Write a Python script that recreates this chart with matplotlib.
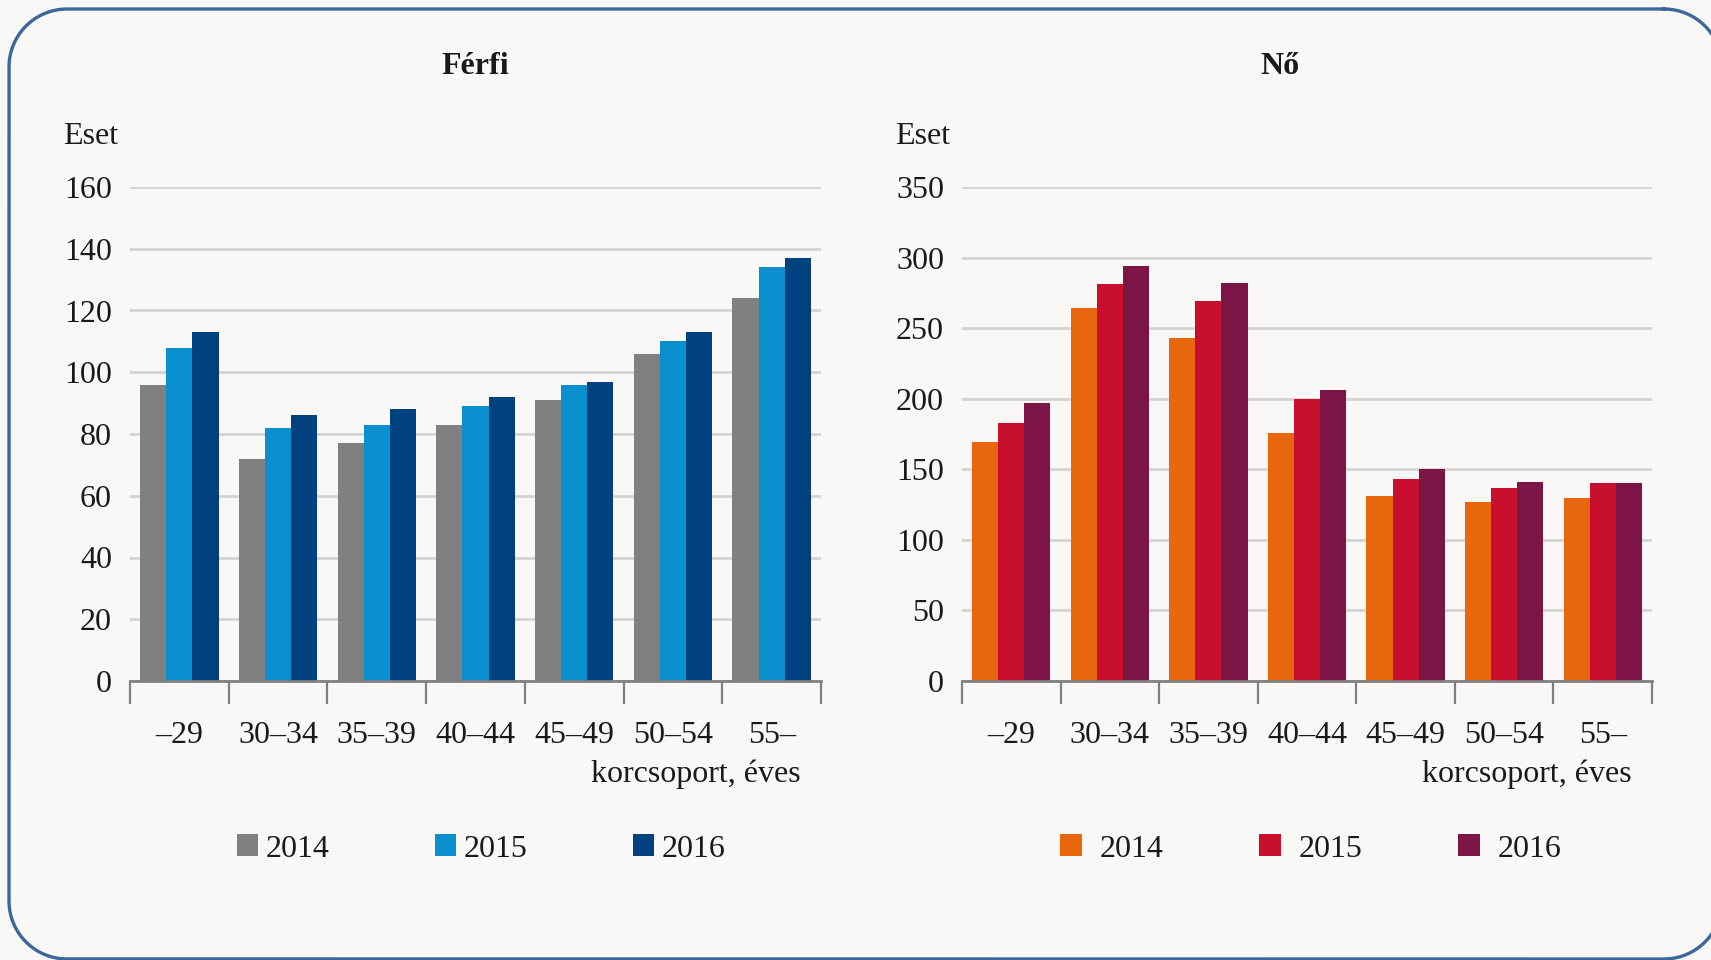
#!/usr/bin/env python
# -*- coding: utf-8 -*-

import numpy as np
import matplotlib
matplotlib.use('Agg')
import matplotlib.pyplot as plt
from matplotlib.lines import Line2D

plt.rcParams['font.family'] = ['Liberation Serif', 'DejaVu Serif']

# adatok
korcsoport = ['–29', '30–34', '35–39', '40–44', '45–49', '50–54', '55–']
evek = ['2014', '2015', '2016']

ferfi_2014 = [96, 72, 77, 83, 91, 106, 124]
ferfi_2015 = [108, 82, 83, 89, 96, 110, 134]
ferfi_2016 = [113, 86, 88, 92, 97, 113, 137]

no_2014 = [169, 264, 243, 176, 131, 127, 130]
no_2015 = [183, 281, 269, 200, 143, 137, 140]
no_2016 = [197, 294, 282, 206, 150, 141, 140]

ferfi_szinek = ['#808080', '#0a8fcf', '#00427f']
no_szinek = ['#e8660c', '#c8102e', '#7c1446']

W, H = 1711, 960
BG = '#f9f8f6'
FS = 23

fig = plt.figure(figsize=(W / 100, H / 100), dpi=100)
fig.patch.set_facecolor(BG)


def px(x, y):
    return x / W, 1 - y / H


# lekerekitett keret pixelben (a jobb szele kilog a kepbol)
x0, y0, x1, y1, r = 9, 9, 1722, 959, 58
sarkok = [(x1 - r, y0 + r, -90, 0), (x1 - r, y1 - r, 0, 90),
          (x0 + r, y1 - r, 90, 180), (x0 + r, y0 + r, 180, 270)]
kx, ky = [], []
for cx, cy, a0, a1 in sarkok:
    t = np.radians(np.linspace(a0, a1, 40))
    kx.extend(cx + r * np.cos(t))
    ky.extend(cy + r * np.sin(t))
kx.append(kx[0])
ky.append(ky[0])
fx, fy = px(np.array(kx), np.array(ky))
fig.add_artist(Line2D(fx, fy, transform=fig.transFigure, color='#3b679c',
                      linewidth=2.4, zorder=0))


def panel(rect, series, colors, ymax, ystep, title, title_x, eset_x, label_right, leg_x, leg_pad, leg_col):
    ax = fig.add_axes(rect)
    ax.set_facecolor('none')
    x = np.arange(len(korcsoport))
    bw = 0.265
    handles = []
    for i, (vals, c) in enumerate(zip(series, colors)):
        b = ax.bar(x + (i - 1) * bw, vals, width=bw, color=c, linewidth=0, zorder=3)
        handles.append(b)
    ax.set_xlim(-0.5, len(korcsoport) - 0.5)
    ax.set_ylim(0, ymax)
    ax.set_yticks(np.arange(0, ymax + 1, ystep))
    ax.yaxis.grid(True, color='#d3d3d3', linewidth=2, zorder=0)
    ax.tick_params(axis='y', length=0, pad=13, labelsize=FS, colors='#1a1a1a')
    for s in ['left', 'right', 'top']:
        ax.spines[s].set_visible(False)
    ax.spines['bottom'].set_color('#808080')
    ax.spines['bottom'].set_linewidth(2)
    ax.spines['bottom'].set_zorder(4)
    ax.set_xticks(x)
    ax.set_xticklabels(korcsoport)
    ax.set_xticks(np.arange(-0.5, len(korcsoport)), minor=True)
    ax.tick_params(axis='x', which='major', length=0, pad=29, labelsize=FS, colors='#1a1a1a')
    ax.tick_params(axis='x', which='minor', length=16.5, width=1.6, color='#808080', direction='out')

    fig.text(*px(title_x, 67), title, ha='center', va='center', fontsize=FS, fontweight='bold', color='#1a1a1a')
    fig.text(*px(eset_x, 136), 'Eset', ha='left', va='center', fontsize=FS, color='#1a1a1a')
    fig.text(*px(label_right, 774), 'korcsoport, éves', ha='right', va='center', fontsize=FS, color='#1a1a1a')

    fig.legend(handles, evek, loc='center', bbox_to_anchor=px(leg_x, 849), ncol=3,
               frameon=False, fontsize=FS, handlelength=0.68, handleheight=0.68,
               handletextpad=leg_pad, columnspacing=leg_col, labelcolor='#1a1a1a')
    return ax


panel([130 / W, 1 - 681 / H, 691 / W, 494 / H],
      [ferfi_2014, ferfi_2015, ferfi_2016], ferfi_szinek, 160, 20,
      'Férfi', 475, 63, 801, 481, 0.22, 3.3)
panel([962 / W, 1 - 681 / H, 690 / W, 494 / H],
      [no_2014, no_2015, no_2016], no_szinek, 350, 50,
      'Nő', 1280, 895, 1632, 1311, 0.55, 3.0)

fig.savefig('out.png', dpi=100, facecolor=BG)
